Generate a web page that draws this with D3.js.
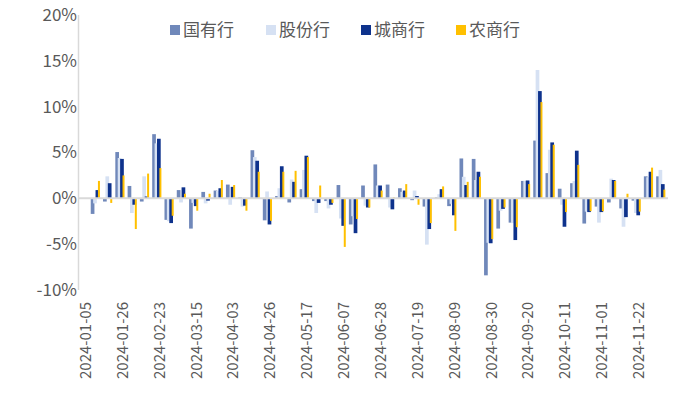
<!DOCTYPE html>
<html>
<head>
<meta charset="utf-8">
<script src="https://cdn.jsdelivr.net/npm/d3@7"></script>
<style>
html,body{margin:0;padding:0;background:#fff;}
svg{display:block;}
text{font-family:"Noto Sans CJK SC","DejaVu Sans",sans-serif;fill:#595959;}
</style>
</head>
<body>
<svg id="chart" width="681" height="401"></svg>
<script>
const dates = ["2024-01-05","2024-01-12","2024-01-19","2024-01-26","2024-02-02","2024-02-08","2024-02-23","2024-03-01","2024-03-08","2024-03-15","2024-03-22","2024-03-29","2024-04-03","2024-04-12","2024-04-19","2024-04-26","2024-04-30","2024-05-10","2024-05-17","2024-05-24","2024-05-31","2024-06-07","2024-06-14","2024-06-21","2024-06-28","2024-07-05","2024-07-12","2024-07-19","2024-07-26","2024-08-02","2024-08-09","2024-08-16","2024-08-23","2024-08-30","2024-09-06","2024-09-13","2024-09-20","2024-09-27","2024-09-30","2024-10-11","2024-10-18","2024-10-25","2024-11-01","2024-11-08","2024-11-15","2024-11-22","2024-11-29","2024-12-06"];
const seriesNames = ["国有行","股份行","城商行","农商行"];
const seriesColors = ["#7088BA","#D6E1F3","#0E328C","#FFC000"];
const stateBanks = [0,-1.7,-0.35,5.05,1.35,-0.35,7.0,-2.35,0.9,-3.3,0.7,0.85,1.5,0.1,5.25,-2.4,0.25,-0.45,1.0,-0.3,-0.3,1.45,-2.85,1.4,3.7,1.5,1.1,-0.2,-0.9,0.1,-0.85,4.35,4.3,-8.4,-3.3,-2.65,1.9,6.3,2.75,1.05,1.65,-2.75,-0.9,-0.45,-1.1,-0.25,2.4,2.4];
const jointBanks = [0,-0.55,2.4,4.4,-1.6,2.4,6.0,-2.5,-0.45,-0.5,-0.55,0.8,-0.7,-0.9,4.5,0.75,1.1,2.05,3.1,-1.6,-1.1,-2.2,-1.95,-0.8,1.4,-1.0,0.7,0.85,-5.05,0.45,-0.6,2.35,2.0,-4.85,-1.35,-2.7,1.9,14.0,5.3,-0.7,1.9,-1.45,-2.65,2.15,-3.1,-1.6,2.3,3.1];
const cityBanks = [0,0.9,1.65,4.3,-0.7,0.2,6.5,-2.7,1.2,-0.85,-0.25,1.1,1.25,-0.8,4.1,-2.85,3.5,1.8,4.65,-0.5,-0.7,-3.0,-3.8,-1.0,1.4,-1.2,0.85,0.25,-3.35,1.0,-1.85,1.45,2.9,-4.9,-1.15,-4.55,1.95,11.7,6.1,-3.1,5.2,-1.5,-1.5,2.0,-2.05,-1.85,2.9,1.55];
const ruralBanks = [0,1.9,-0.5,2.5,-3.35,2.7,3.3,-1.9,0.5,-1.35,0.5,2.0,1.45,-1.35,2.9,-2.45,2.9,3.0,4.5,1.4,-0.5,-5.3,-2.25,-1.0,0.85,0.1,1.55,-0.7,-2.7,1.3,-3.55,1.8,2.35,-4.45,-1.0,-3.15,1.55,10.5,5.85,-1.5,3.65,-1.4,-1.4,1.9,0.5,-1.45,3.35,0.95];
const yTicks = [-10,-5,0,5,10,15,20];
const xTickLabels = dates.filter((d,i)=>i%3===0);

const allSeries = [stateBanks, jointBanks, cityBanks, ruralBanks];
const svg = d3.select("#chart");

const x0 = d3.scaleBand().domain(dates).range([77.5, 667.5]).paddingInner(0).paddingOuter(0);
const x1 = d3.scaleBand().domain(seriesNames).range([-5.2, 4.4]);
const y = d3.scaleLinear().domain([-10, 20]).range([290, 15]);

// y axis line
svg.append("line").attr("x1",78.5).attr("x2",78.5).attr("y1",y(20)).attr("y2",y(-10))
  .attr("stroke","#D9D9D9").attr("stroke-width",1.5);

// y tick labels
svg.append("g").selectAll("text").data(yTicks).join("text")
  .attr("x",77).attr("y",d=>y(d)).attr("dy","0.35em")
  .attr("text-anchor","end").attr("font-size",17)
  .text(d=>d+"%");

// bars
const gBars = svg.append("g");
allSeries.forEach((vals, si) => {
  gBars.append("g").selectAll("rect").data(vals.map((v,i)=>({d:dates[i],v}))).join("rect")
    .attr("x", p => x0(p.d) + x0.bandwidth()/2 + x1(seriesNames[si]))
    .attr("width", si===3 ? x1.bandwidth()-0.4 : x1.bandwidth()+1.3)
    .attr("y", p => Math.min(y(p.v), y(0)))
    .attr("height", p => Math.abs(y(p.v)-y(0)))
    .attr("fill", seriesColors[si]);
});

// zero line
svg.append("line").attr("x1",78.5).attr("x2",668).attr("y1",y(0)).attr("y2",y(0))
  .attr("stroke","#D9D9D9").attr("stroke-width",2);

// x tick labels
svg.append("g").selectAll("text").data(xTickLabels).join("text")
  .attr("transform", d => `translate(${x0(d)+x0.bandwidth()/2+2},302) rotate(-90)`)
  .attr("dy","0.35em").attr("text-anchor","end").attr("font-size",15)
  .text(d=>d);

// legend
const legendX = [170, 266, 361, 456];
const lg = svg.append("g");
seriesNames.forEach((n,i)=>{
  lg.append("rect").attr("x",legendX[i]).attr("y",25).attr("width",10).attr("height",10).attr("fill",seriesColors[i]);
  lg.append("text").attr("x",legendX[i]+13).attr("y",30).attr("dy","0.35em").attr("font-size",17).text(n);
});
</script>
</body>
</html>
